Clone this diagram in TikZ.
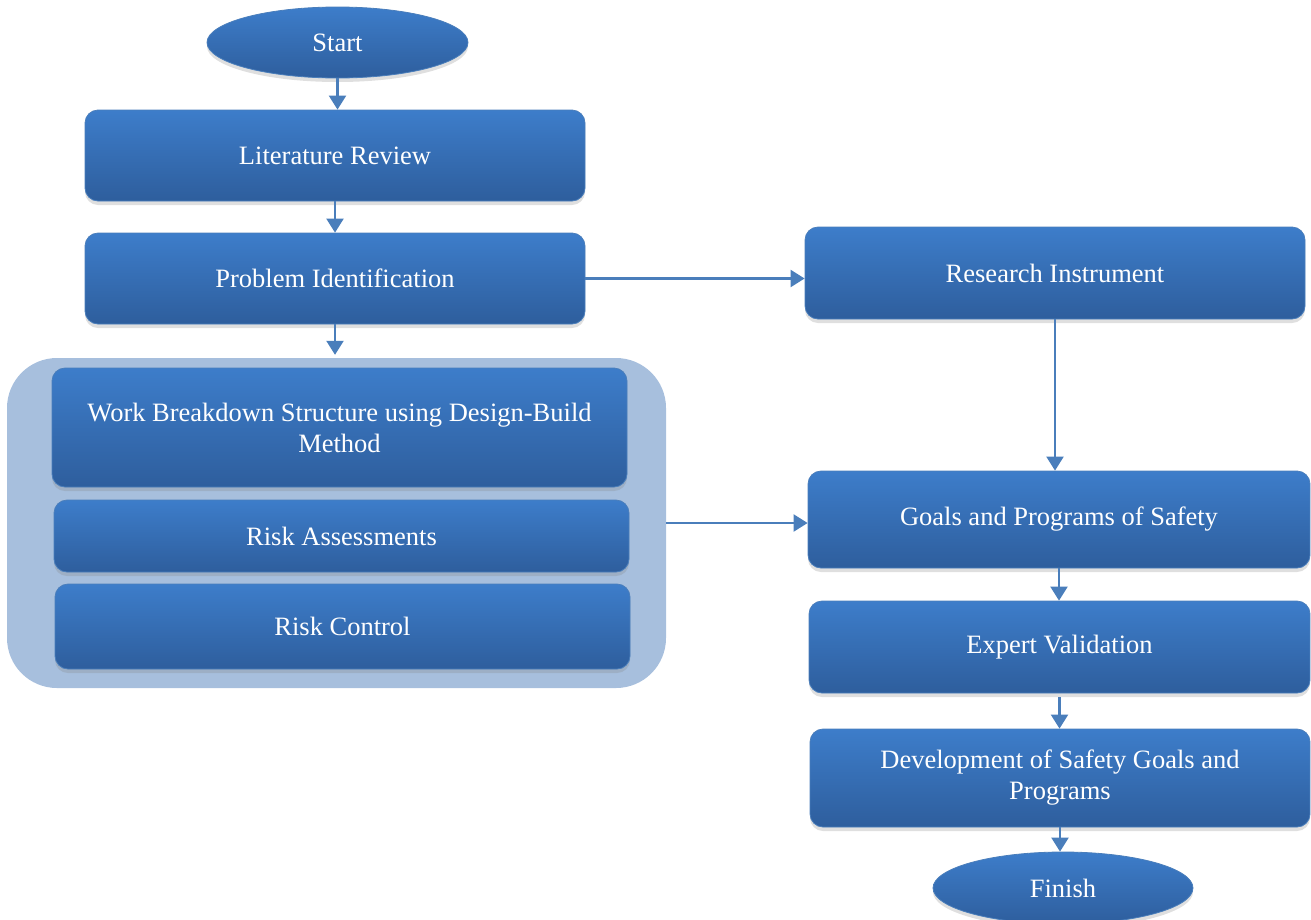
\documentclass[tikz,border=0pt]{standalone}
\usepackage{fontspec}
\setmainfont{Liberation Serif}
\usetikzlibrary{arrows.meta,shapes.geometric,shadows}
\definecolor{boxtop}{HTML}{3D7DCA}
\definecolor{boxbot}{HTML}{2E5E9D}
\definecolor{boxline}{HTML}{4A7EBB}
\definecolor{groupfill}{HTML}{A7BFDD}
\definecolor{arrowc}{HTML}{4A7EBB}
\tikzset{
  boxbase/.style={draw=boxline, line width=0.8pt, top color=boxtop, bottom color=boxbot,
    text=white, align=center, font=\fontsize{26.5}{31}\selectfont, inner sep=0pt,
    drop shadow={opacity=0.25, shadow xshift=0pt, shadow yshift=-4pt}},
  stepbox/.style={boxbase, rectangle, rounded corners=13pt},
  termbox/.style={boxbase, ellipse},
  groupbox/.style={rectangle, rounded corners=50pt, fill=groupfill, draw=none, inner sep=0pt},
  flow/.style={draw=arrowc, line width=2.2pt, -{Triangle[width=17pt,length=14pt]}}
}
\begin{document}
\begin{tikzpicture}[x=1pt,y=-1pt]
\useasboundingbox (0,0) rectangle (1311,919);
\node[termbox, minimum width=261pt, minimum height=71pt] (start) at (337.5,42.5) {Start};
\node[stepbox, minimum width=500pt, minimum height=91pt] (lit) at (335,155.5) {Literature Review};
\node[stepbox, minimum width=500pt, minimum height=91pt] (prob) at (335,278.5) {Problem Identification};
\node[groupbox, minimum width=659pt, minimum height=330pt] (group) at (336.5,523) {};
\node[stepbox, minimum width=575pt, minimum height=119pt] (wbs) at (339.5,427.5) {Work Breakdown Structure using Design-Build\\Method};
\node[stepbox, minimum width=575pt, minimum height=72pt] (ra) at (341.5,536) {Risk Assessments};
\node[stepbox, minimum width=575pt, minimum height=85pt] (rc) at (342.5,626.5) {Risk Control};
\node[stepbox, minimum width=500pt, minimum height=92pt] (ri) at (1055,273) {Research Instrument};
\node[stepbox, minimum width=502pt, minimum height=97pt] (goals) at (1059,519.5) {Goals and Programs of Safety};
\node[stepbox, minimum width=501pt, minimum height=92pt] (ev) at (1059.5,647) {Expert Validation};
\node[stepbox, minimum width=500pt, minimum height=98pt] (dev) at (1060,778) {Development of Safety Goals and\\Programs};
\node[termbox, minimum width=260pt, minimum height=72pt] (finish) at (1063,888) {Finish};

\draw[flow] (start.south) -- (start.south |- lit.north);
\draw[flow] (lit.south) -- (lit.south |- prob.north);
\draw[flow, shorten >=3pt] (prob.south) -- (prob.south |- group.north);
\draw[flow] (prob.east) -- (prob.east -| ri.west);
\draw[flow] (group.east) -- (group.east -| goals.west);
\draw[flow] (ri.south) -- (ri.south |- goals.north);
\draw[flow] (goals.south) -- (goals.south |- ev.north);
\draw[flow, shorten <=4pt] (ev.south) -- (ev.south |- dev.north);
\draw[flow] (dev.south) -- (dev.south |- finish.north);
\end{tikzpicture}
\end{document}
